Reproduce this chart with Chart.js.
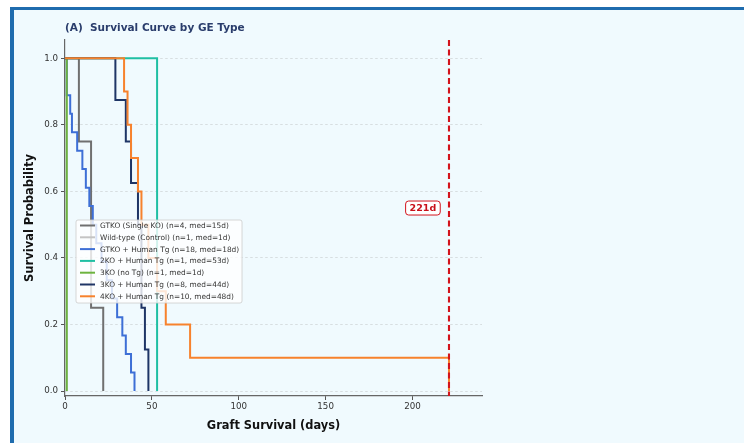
<!DOCTYPE html>
<html>
<head>
<meta charset="utf-8">
<script src="https://cdn.jsdelivr.net/npm/chart.js@4.4.1/dist/chart.umd.min.js"></script>
<style>
  html, body { margin: 0; padding: 0; width: 744px; height: 443px; overflow: hidden; background: #ffffff; }
  #panel { position: absolute; left: 10px; top: 7px; width: 800px; height: 500px;
           background: #f0fafe; border-left: 4px solid #1f6cae; border-top: 3px solid #1f6cae; }
  #wrap { position: absolute; left: 0; top: 0; width: 744px; height: 443px; }
</style>
</head>
<body>
<div id="panel"></div>
<div id="wrap"><canvas id="km" width="744" height="443"></canvas></div>
<script>
// Kaplan-Meier step curves: day of each event and survival after it
const groupLabels = [
  'GTKO (Single KO) (n=4, med=15d)',
  'Wild-type (Control) (n=1, med=1d)',
  'GTKO + Human Tg (n=18, med=18d)',
  '2KO + Human Tg (n=1, med=53d)',
  '3KO (no Tg) (n=1, med=1d)',
  '3KO + Human Tg (n=8, med=44d)',
  '4KO + Human Tg (n=10, med=48d)'
];
const groupColors = ['#707070', '#c4c4c4', '#3d6fd6', '#1fbfa3', '#6cb33f', '#1e3566', '#f7822d'];

const gtkoDays = [0, 8, 15, 22];
const gtkoSurv = [1.0, 0.75, 0.25, 0.0];
const wildTypeDays = [0, 1];
const wildTypeSurv = [1.0, 0.0];
const gtkoTgDays = [0, 1, 3, 4, 7, 10, 12, 14, 16, 18, 21, 24, 27, 30, 33, 35, 38, 40];
const gtkoTgSurv = [1.0, 0.889, 0.833, 0.778, 0.722, 0.667, 0.611, 0.556, 0.5, 0.444, 0.389, 0.333, 0.278, 0.222, 0.167, 0.111, 0.056, 0.0];
const twoKoTgDays = [0, 53];
const twoKoTgSurv = [1.0, 0.0];
const threeKoDays = [0, 1];
const threeKoSurv = [1.0, 0.0];
const threeKoTgDays = [0, 29, 35, 38, 42, 44, 46, 48];
const threeKoTgSurv = [1.0, 0.875, 0.75, 0.625, 0.5, 0.25, 0.125, 0.0];
const fourKoTgDays = [0, 34, 36, 38, 42, 44, 48, 53, 58, 72, 221];
const fourKoTgSurv = [1.0, 0.9, 0.8, 0.7, 0.6, 0.5, 0.4, 0.3, 0.2, 0.1, 0.0];

const longestSurvivalDay = 221;
const xTicks = [0, 50, 100, 150, 200];
const yTicks = [0.0, 0.2, 0.4, 0.6, 0.8, 1.0];

const groupDays = [gtkoDays, wildTypeDays, gtkoTgDays, twoKoTgDays, threeKoDays, threeKoTgDays, fourKoTgDays];
const groupSurv = [gtkoSurv, wildTypeSurv, gtkoTgSurv, twoKoTgSurv, threeKoSurv, threeKoTgSurv, fourKoTgSurv];

const FONT = '"DejaVu Sans", "Liberation Sans", sans-serif';

// later groups are painted over earlier ones
const datasets = groupLabels.map((label, i) => ({
  label,
  data: groupDays[i].map((d, k) => ({ x: d, y: groupSurv[i][k] })),
  borderColor: groupColors[i],
  backgroundColor: groupColors[i],
  borderWidth: 2,
  stepped: 'before',
  pointRadius: 0,
  fill: false,
  order: groupLabels.length - i
}));

const overlay = {
  id: 'overlay',
  afterDatasetsDraw(chart) {
    const { ctx, chartArea: a, scales: { x, y } } = chart;
    // vertical marker at the longest graft survival
    const xp = x.getPixelForValue(longestSurvivalDay);
    ctx.save();
    ctx.strokeStyle = '#d3131c';
    ctx.lineWidth = 2.1;
    ctx.setLineDash([6, 3.5]);
    ctx.beginPath();
    ctx.moveTo(xp, a.top);
    ctx.lineTo(xp, a.bottom);
    ctx.stroke();
    ctx.setLineDash([]);

    // marker label
    const lx = x.getPixelForValue(longestSurvivalDay - 15);
    const ly = y.getPixelForValue(0.55);
    ctx.font = 'bold 9.5px ' + FONT;
    const txt = longestSurvivalDay + 'd';
    const tw = ctx.measureText(txt).width;
    const bw = tw + 8, bh = 14;
    ctx.fillStyle = 'rgba(255,255,255,0.9)';
    ctx.strokeStyle = '#d3131c';
    ctx.lineWidth = 1;
    ctx.beginPath();
    ctx.roundRect(lx - bw / 2, ly - bh / 2, bw, bh, 3);
    ctx.fill();
    ctx.stroke();
    ctx.fillStyle = '#c8101a';
    ctx.textAlign = 'center';
    ctx.textBaseline = 'middle';
    ctx.fillText(txt, lx, ly + 0.5);

    // legend box
    const bx = a.left + 11, by = a.top + 180, lw = 166, lh = 83;
    ctx.fillStyle = 'rgba(255,255,255,0.8)';
    ctx.strokeStyle = '#cccccc';
    ctx.lineWidth = 0.8;
    ctx.beginPath();
    ctx.roundRect(bx, by, lw, lh, 2);
    ctx.fill();
    ctx.stroke();
    ctx.font = '7.4px ' + FONT;
    ctx.textAlign = 'left';
    ctx.textBaseline = 'middle';
    groupLabels.forEach((lab, i) => {
      const ry = by + 5.5 + i * 11.8;
      ctx.strokeStyle = groupColors[i];
      ctx.lineWidth = 2;
      ctx.beginPath();
      ctx.moveTo(bx + 4, ry);
      ctx.lineTo(bx + 19, ry);
      ctx.stroke();
      ctx.fillStyle = '#333333';
      ctx.fillText(lab, bx + 24, ry + 0.5);
    });
    ctx.restore();
  },
  afterDraw(chart) {
    const { ctx, chartArea: a } = chart;
    ctx.save();
    ctx.font = 'bold 10.5px ' + FONT;
    ctx.fillStyle = '#2a3d6c';
    ctx.textAlign = 'left';
    ctx.textBaseline = 'middle';
    ctx.fillText('(A)  Survival Curve by GE Type', a.left, 28);
    ctx.restore();
  }
};

new Chart(document.getElementById('km'), {
  type: 'line',
  data: { datasets },
  options: {
    responsive: false,
    animation: false,
    devicePixelRatio: 1,
    layout: { padding: { left: 14, top: 40, right: 262, bottom: 0 } },
    plugins: { legend: { display: false }, tooltip: { enabled: false } },
    elements: { line: { tension: 0 } },
    scales: {
      x: {
        type: 'linear',
        min: 0,
        max: 240,
        afterBuildTicks(s) { s.ticks = xTicks.map(v => ({ value: v })); },
        afterFit(s) { s.height = 47; },
        ticks: { color: '#333333', font: { family: FONT, size: 8.7 }, padding: 2, maxRotation: 0 },
        grid: { drawOnChartArea: false, drawTicks: true, tickLength: 4, tickColor: '#555555', tickWidth: 1 },
        border: { display: true, color: '#666666', width: 1.2 },
        title: { display: true, text: 'Graft Survival (days)', color: '#111111',
                 font: { family: FONT, size: 11.4, weight: 'bold' }, padding: { top: 0, bottom: 10 } }
      },
      y: {
        type: 'linear',
        min: -0.015,
        max: 1.055,
        afterBuildTicks(s) { s.ticks = yTicks.map(v => ({ value: v })); },
        afterFit(s) { s.width = 51; },
        ticks: { color: '#333333', font: { family: FONT, size: 8.7 }, padding: 3,
                 callback: v => Number(v).toFixed(1) },
        grid: { color: 'rgba(170,170,170,0.45)', lineWidth: 0.8,
                drawTicks: true, tickLength: 4, tickColor: '#555555', tickWidth: 1, tickBorderDash: [] },
        border: { display: true, color: '#666666', width: 1.2, dash: [2.5, 2.5] },
        title: { display: true, text: 'Survival Probability', color: '#111111',
                 font: { family: FONT, size: 11.5, weight: 'bold' }, padding: { top: 9, bottom: 0 } }
      }
    }
  },
  plugins: [overlay]
});
</script>
</body>
</html>
